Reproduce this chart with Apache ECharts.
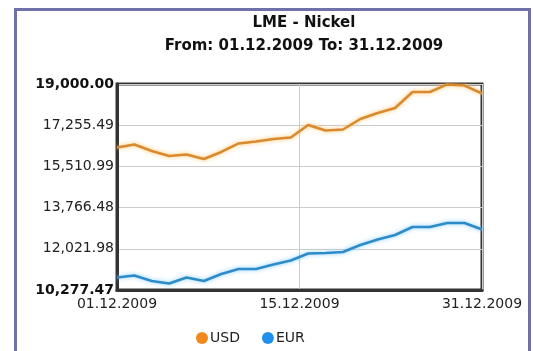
<!DOCTYPE html>
<html><head><meta charset="utf-8">
<script src="https://cdn.jsdelivr.net/npm/echarts@6/dist/echarts.min.js"></script>
<style>html,body{margin:0;padding:0;background:#fff}#c{width:533px;height:351px}</style>
</head><body><div id="c"></div>
<script>
const seriesNames = ['USD', 'EUR'];
const usd = [16311,16438,16163,15951,16015,15824,16121,16481,16565,16671,16735,17264,17031,17073,17518,17772,17984,18661,18661,18980,18936,18598];
const eur = [10807,10891,10659,10553,10807,10659,10955,11167,11167,11357,11527,11823,11844,11887,12183,12416,12606,12945,12945,13115,13115,12839];
const yTicks = [10277.47, 12021.98, 13766.48, 15510.99, 17255.49, 19000.00];
const xTickValues = [0, 10.5, 21];
const xTickLabels = ['01.12.2009', '15.12.2009', '31.12.2009'];
const titleText = 'LME - Nickel';
const subtitleText = 'From: 01.12.2009 To: 31.12.2009';

const chart = echarts.init(document.getElementById('c'), null, {renderer: 'canvas'});
const FONT = 'DejaVu Sans, Verdana, sans-serif';
const fmt = v => v.toLocaleString('en-US', {minimumFractionDigits: 2, maximumFractionDigits: 2});

chart.setOption({
  animation: false,
  backgroundColor: '#ffffff',
  graphic: [{
    type: 'rect', z: -10, silent: true,
    shape: {x: 15.5, y: 9.5, width: 514, height: 400},
    style: {fill: '#ffffff', stroke: '#7070ab', lineWidth: 3}
  }],
  title: {
    text: titleText,
    subtext: subtitleText,
    left: 299, top: 11, textAlign: 'center', itemGap: 8,
    textStyle: {fontFamily: FONT, fontSize: 15, fontWeight: 'bold', color: '#111'},
    subtextStyle: {fontFamily: FONT, fontSize: 15, fontWeight: 'bold', color: '#111'}
  },
  legend: {
    data: seriesNames,
    left: 191, top: 326,
    icon: 'circle', itemWidth: 12, itemHeight: 12, itemGap: 22,
    textStyle: {fontFamily: FONT, fontSize: 14, color: '#222', padding: [0, 0, 0, -3]}
  },
  grid: {
    left: 117, right: 51, top: 84, bottom: 61,
    show: true, borderColor: '#333', borderWidth: 3, backgroundColor: 'transparent'
  },
  xAxis: {
    type: 'value', min: xTickValues[0], max: xTickValues[xTickValues.length - 1],
    axisLine: {show: true, lineStyle: {color: '#333', width: 3}},
    axisTick: {show: false, customValues: xTickValues},
    axisLabel: {
      customValues: xTickValues, margin: 7,
      fontFamily: FONT, fontSize: 14, color: '#222',
      formatter: v => xTickLabels[xTickValues.indexOf(v)]
    },
    splitLine: {show: true, lineStyle: {color: '#cccccc', width: 1}}
  },
  yAxis: {
    type: 'value', min: yTicks[0], max: yTicks[yTicks.length - 1],
    axisLine: {show: true, lineStyle: {color: '#333', width: 3}},
    axisTick: {show: false, customValues: yTicks},
    axisLabel: {
      customValues: yTicks, margin: 3,
      fontFamily: FONT, fontSize: 14, color: '#222',
      formatter: v => (v === yTicks[0] || v === yTicks[yTicks.length - 1]) ? '{b|' + fmt(v) + '}' : fmt(v),
      rich: {b: {fontFamily: FONT, fontSize: 14, fontWeight: 'bold', color: '#111'}}
    },
    splitLine: {show: true, lineStyle: {color: '#cccccc', width: 1}}
  },
  series: [
    {
      name: seriesNames[0], type: 'line', showSymbol: false, z: 3,
      data: usd.map((v, i) => [i, v]),
      itemStyle: {color: '#f0891e'},
      lineStyle: {color: '#d98a2e', width: 2.5, shadowBlur: 4, shadowColor: 'rgba(255,190,90,0.9)'}
    },
    {
      name: seriesNames[1], type: 'line', showSymbol: false, z: 3,
      data: eur.map((v, i) => [i, v]),
      itemStyle: {color: '#1e90ef'},
      lineStyle: {color: '#2d8cc8', width: 2.5, shadowBlur: 4, shadowColor: 'rgba(120,200,255,0.9)'}
    }
  ]
});
</script></body></html>
